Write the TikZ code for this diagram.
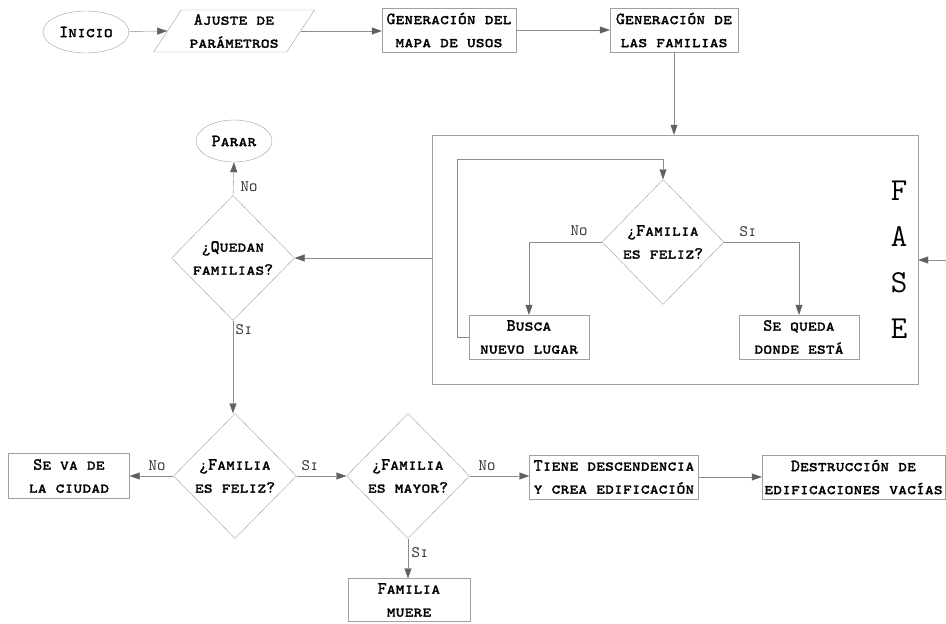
\documentclass[tikz,border=0pt]{standalone}
\usepackage{fontspec}
\usetikzlibrary{arrows.meta,shapes.geometric}
\newfontfamily\capsfont{lmmonocaps10-regular.otf}[FakeBold=1.6]
\newfontfamily\answerfont{lmmonocaps10-regular.otf}
\definecolor{edgegray}{HTML}{A0A0A0}
\definecolor{linegray}{HTML}{8C8C8C}
\definecolor{tipgray}{HTML}{606060}
\begin{document}
\begin{tikzpicture}[x=1pt,y=-1pt,
  every node/.style={font=\capsfont\fontsize{17}{23}\selectfont, text=black, align=center},
  stepbox/.style={draw=edgegray, rectangle, inner sep=0pt},
  decision/.style={draw=edgegray, diamond, inner sep=0pt, minimum width=123pt, minimum height=125pt},
  terminal/.style={draw=edgegray, ellipse, inner sep=0pt},
  flow/.style={draw=linegray, -{Triangle[length=10pt,width=7pt,color=tipgray]}},
  answer/.style={font=\answerfont\fontsize{16}{18}\selectfont, text=black!80}
]
\useasboundingbox (0,0) rectangle (946,624);

% top row
\node[terminal, minimum width=86pt, minimum height=42pt] (inicio) at (86,32) {Inicio};
\node[draw=edgegray, trapezium, trapezium left angle=55, trapezium right angle=125,
      trapezium stretches=true, minimum width=161pt, minimum height=42pt, inner sep=0pt]
      (ajuste) at (234,31) {Ajuste de\\parámetros};
\node[stepbox, minimum width=134pt, minimum height=44pt] (mapa) at (449,30) {Generación del\\mapa de usos};
\node[stepbox, minimum width=128pt, minimum height=44pt] (familias) at (674,30) {Generación de\\las familias};

% phase block
\node[draw=edgegray, rectangle, minimum width=486pt, minimum height=249pt, inner sep=0pt] (fase) at (675,259.5) {};
\node[font=\ttfamily\fontsize{32}{46}\selectfont] (fasetxt) at (899,260) {F\\A\\S\\E};
\node[decision, minimum width=122pt] (d0) at (663,242) {¿Familia\\es feliz?};
\node[stepbox, minimum width=120pt, minimum height=44pt] (busca) at (529,337) {Busca\\nuevo lugar};
\node[stepbox, minimum width=120pt, minimum height=44pt] (queda) at (799,337) {Se queda\\donde está};
\coordinate (fasein) at (946,260);

% left column
\node[terminal, minimum width=76pt, minimum height=42pt] (parar) at (234,141) {Parar};
\node[decision] (quedan) at (233,258) {¿Quedan\\familias?};

% bottom row
\node[decision] (feliz) at (235,476) {¿Familia\\es feliz?};
\node[stepbox, minimum width=121pt, minimum height=45pt] (seva) at (69,476) {Se va de\\la ciudad};
\node[decision] (mayor) at (408,476) {¿Familia\\es mayor?};
\node[stepbox, minimum width=122pt, minimum height=43pt] (muere) at (409,600) {Familia\\muere};
\node[stepbox, minimum width=169pt, minimum height=44pt] (tiene) at (614,477) {Tiene descendencia\\y crea edificación};
\node[stepbox, minimum width=183pt, minimum height=44pt] (destr) at (853.5,477) {Destrucción de\\edificaciones vacías};

% connectors
\draw[flow] (inicio) -- (ajuste.west);
\draw[flow] (ajuste.east) -- (ajuste.east -| mapa.west);
\draw[flow] (mapa) -- (familias);
\draw[flow] (familias.south) -- (familias.south |- fase.north);
\draw[flow] (fasein) -- (fasein -| fase.east);
\draw[flow] (quedan.east -| fase.west) -- (quedan.east);
\draw[flow] (d0.west) -| (busca.north);
\draw[flow] (d0.east) -| (queda.north);
\draw[flow] (busca.west) -- ++(-12,0) |- ([yshift=20pt]d0.north) -- (d0.north);
\draw[flow] (quedan.north) -- (parar.south);
\draw[flow] (quedan.south) -- (quedan.south |- feliz.north);
\draw[flow] (feliz.west) -- (seva.east);
\draw[flow] (feliz.east) -- (mayor.west);
\draw[flow] (mayor.south) -- (mayor.south |- muere.north);
\draw[flow] (mayor.east) -- (tiene.west |- mayor.east);
\draw[flow] (tiene) -- (destr);

% branch answers
\node[answer] (a1) at (579,231) {No};
\node[answer] (a2) at (748,232) {Si};
\node[answer] (a3) at (249,187) {No};
\node[answer] (a4) at (244,330) {Si};
\node[answer] (a5) at (157,466) {No};
\node[answer] (a6) at (310,466) {Si};
\node[answer] (a7) at (420,553) {Si};
\node[answer] (a8) at (487,466) {No};
\end{tikzpicture}
\end{document}
